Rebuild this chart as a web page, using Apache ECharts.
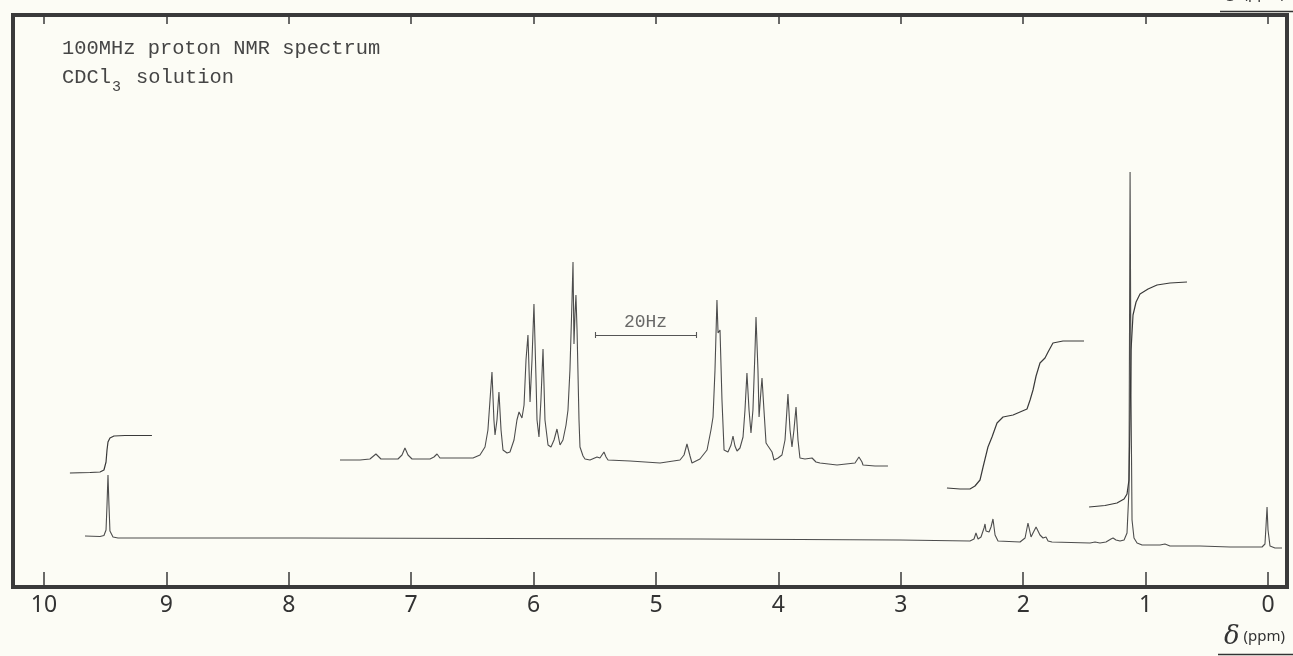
<!DOCTYPE html>
<html>
<head>
<meta charset="utf-8">
<script src="https://cdn.jsdelivr.net/npm/echarts@6.0.0/dist/echarts.min.js"></script>
<style>
html,body{margin:0;padding:0;background:#fcfcf5;}
#chart{width:1293px;height:656px;}
</style>
</head>
<body>
<div id="chart"></div>
<script>
// ---- data (chemical shift in ppm, intensity in chart units) ----
const tickValues = [0, 1, 2, 3, 4, 5, 6, 7, 8, 9, 10];
const titleLine1 = '100MHz proton NMR spectrum';
const solventMain = 'CDCl';
const solventSub = '3';
const solventRest = 'solution';
const axisName = 'δ';
const axisUnit = '(ppm)';
const scaleLabel = '20Hz';

// full-width spectrum trace
const spectrum = [
  [9.665,51],[9.542,50.5],[9.510,51.5],[9.493,57],[9.485,82],[9.477,112],[9.469,82],[9.461,56],[9.436,50],[9.395,49],
  [7.908,49],[6.275,48.5],[4.641,48],[3.007,47],[2.435,46],[2.402,48],[2.386,54],[2.369,48],[2.345,50],[2.320,59],
  [2.312,63],[2.304,56],[2.296,55],[2.279,55],[2.263,60],[2.247,68],[2.230,52],[2.206,46],[2.026,45],[1.985,49],
  [1.961,64],[1.936,50],[1.920,54],[1.895,60],[1.879,59],[1.863,52],[1.838,49],[1.814,50],[1.797,46],[1.765,45],
  [1.454,44],[1.413,45],[1.397,46],[1.373,44],[1.324,45],[1.283,48],[1.266,49],[1.242,47],[1.209,46],[1.176,47],
  [1.152,54],[1.136,97],[1.127,415],[1.119,187],[1.111,67],[1.095,49],[1.070,44],[1.029,42],[0.882,42],[0.842,43],
  [0.801,41],[0.556,41],[0.310,40],[0.049,40],[0.025,43],[0.016,62],[0.008,80],[0.000,57],[-0.016,41],[-0.057,39],[-0.114,39]
];

// integral traces
const integralA = [
  [9.788,114],[9.624,114.5],[9.542,115],[9.510,117],[9.493,125],[9.485,137],[9.477,145],[9.461,149],[9.428,151],[9.338,151.5],[9.118,151.5]
];
const integralB = [
  [2.623,99],[2.516,98],[2.435,98],[2.394,101],[2.353,107],[2.328,120],[2.288,140],[2.255,150],[2.214,164],[2.165,170],
  [2.083,172],[1.969,178],[1.944,187],[1.920,197],[1.895,211],[1.863,224],[1.822,229],[1.797,235],[1.757,244],[1.675,246],[1.503,246]
];
const integralC = [
  [1.462,80],[1.332,81.5],[1.234,84],[1.176,88],[1.152,93],[1.136,107],[1.127,167],[1.119,237],[1.103,272],[1.078,285],
  [1.046,293],[0.980,298],[0.907,302],[0.801,304],[0.662,305]
];

// expanded (offset) trace
const expanded = [
  [7.582,127],[7.418,127],[7.337,128],[7.288,133],[7.247,128],[7.108,128],[7.075,132],[7.051,139],[7.026,132],[6.993,128],
  [6.846,128],[6.814,130],[6.789,133],[6.765,129],[6.626,129],[6.495,129],[6.438,132],[6.397,140],[6.373,157],[6.356,187],
  [6.340,215],[6.324,167],[6.315,152],[6.299,167],[6.283,195],[6.266,157],[6.250,137],[6.217,134],[6.193,135],[6.160,147],
  [6.136,167],[6.119,175],[6.095,169],[6.078,182],[6.062,227],[6.046,252],[6.029,185],[6.013,227],[5.997,283],[5.980,207],
  [5.972,167],[5.956,150],[5.940,187],[5.923,238],[5.907,167],[5.882,142],[5.858,140],[5.833,147],[5.809,158],[5.792,147],
  [5.784,142],[5.760,147],[5.735,162],[5.719,177],[5.703,217],[5.686,287],[5.678,325],[5.670,243],[5.662,272],[5.654,292],
  [5.645,257],[5.629,167],[5.621,140],[5.596,131],[5.580,128],[5.539,127],[5.482,130],[5.458,129],[5.425,135],[5.408,130],
  [5.392,127],[5.212,126],[4.967,124],[4.804,127],[4.771,132],[4.747,143],[4.722,131],[4.706,124],[4.641,128],[4.583,137],
  [4.551,157],[4.534,170],[4.518,217],[4.502,287],[4.493,254],[4.477,257],[4.461,187],[4.444,137],[4.412,135],[4.387,142],
  [4.371,151],[4.355,141],[4.338,136],[4.314,139],[4.289,150],[4.273,177],[4.257,214],[4.240,177],[4.224,154],[4.208,177],
  [4.191,237],[4.183,270],[4.167,217],[4.158,170],[4.142,197],[4.134,209],[4.118,177],[4.101,144],[4.085,141],[4.069,143],
  [4.052,135],[4.036,127],[4.003,129],[3.971,132],[3.946,147],[3.922,193],[3.905,157],[3.889,140],[3.873,157],[3.856,180],
  [3.840,147],[3.824,129],[3.783,128],[3.725,129],[3.693,125],[3.660,124],[3.521,122],[3.374,124],[3.342,130],[3.317,125],
  [3.309,122],[3.211,121],[3.105,121]
];

// 20 Hz scale bar (ppm ends, level, cap half-height)
const scaleBarEnds = [5.498, 4.673];
const scaleBarLevel = 252;
const scaleBarCap = 3;

// axis extent (ppm)
const axisMin = -0.155;
const axisMax = 10.253;

// ---- chart ----
const chart = echarts.init(document.getElementById('chart'), null, {renderer: 'canvas'});
const ink = '#3a3a3a';
const traceColor = '#4d4d4d';
const textInk = '#454545';
const monoFont = '"Liberation Mono", monospace';

const barLines = [
  {coords: [[scaleBarEnds[0], scaleBarLevel], [scaleBarEnds[1], scaleBarLevel]]},
  {coords: [[scaleBarEnds[0], scaleBarLevel - scaleBarCap], [scaleBarEnds[0], scaleBarLevel + scaleBarCap]]},
  {coords: [[scaleBarEnds[1], scaleBarLevel - scaleBarCap], [scaleBarEnds[1], scaleBarLevel + scaleBarCap]]}
];
const barMid = (scaleBarEnds[0] + scaleBarEnds[1]) / 2;

const lineSeries = (name, data, color, width) => ({
  name, type: 'line', data, xAxisIndex: 0, yAxisIndex: 0,
  showSymbol: false, symbol: 'none', smooth: false,
  lineStyle: {color, width}, silent: true, animation: false, z: 3
});

const unitLabel = (top) => ({
  type: 'text', left: 1224, top: top, silent: true,
  style: {
    text: '{d|' + axisName + '}{p| ' + axisUnit + '}',
    rich: {
      d: {fontFamily: 'DejaVu Serif', fontStyle: 'italic', fontSize: 26, lineHeight: 28, color: '#333', fill: '#333'},
      p: {fontFamily: 'Noto Sans', fontSize: 15, lineHeight: 28, color: '#333', fill: '#333'}
    }
  }
});

chart.setOption({
  backgroundColor: '#fcfcf5',
  animation: false,
  grid: {left: 13, right: 6, top: 15, bottom: 69, show: true, borderColor: ink, borderWidth: 4, backgroundColor: 'transparent'},
  xAxis: [
    {
      type: 'value', position: 'bottom', min: axisMin, max: axisMax, inverse: true,
      axisLine: {show: false},
      axisTick: {show: true, inside: true, length: 15, customValues: tickValues, lineStyle: {color: ink, width: 1.5}},
      axisLabel: {show: true, customValues: tickValues, margin: 7, fontSize: 23, color: '#333', fontFamily: 'Noto Sans'},
      splitLine: {show: false}
    },
    {
      type: 'value', position: 'top', min: axisMin, max: axisMax, inverse: true,
      axisLine: {show: false},
      axisTick: {show: true, inside: true, length: 9, customValues: tickValues, lineStyle: {color: ink, width: 1.5}},
      axisLabel: {show: false},
      splitLine: {show: false}
    }
  ],
  yAxis: {
    type: 'value', min: 0, max: 572,
    axisLine: {show: false}, axisTick: {show: false}, axisLabel: {show: false}, splitLine: {show: false}
  },
  series: [
    lineSeries('spectrum', spectrum, traceColor, 1.1),
    lineSeries('expanded', expanded, traceColor, 1.1),
    lineSeries('integralA', integralA, '#3a3a3a', 1.2),
    lineSeries('integralB', integralB, '#3a3a3a', 1.2),
    lineSeries('integralC', integralC, '#3a3a3a', 1.2),
    {
      type: 'lines', coordinateSystem: 'cartesian2d', xAxisIndex: 0, yAxisIndex: 0,
      data: barLines, lineStyle: {color: '#555', width: 1.1, opacity: 1}, silent: true, animation: false
    },
    {
      type: 'scatter', xAxisIndex: 0, yAxisIndex: 0, data: [[barMid, scaleBarLevel]], symbolSize: 0, silent: true,
      label: {show: true, position: 'top', distance: 4, formatter: scaleLabel, fontFamily: 'Liberation Mono', fontSize: 18, color: '#444'}
    }
  ],
  graphic: [
    {type: 'text', left: 62, top: 39, silent: true, style: {text: titleLine1, font: '20.4px ' + monoFont, fill: textInk}},
    {type: 'text', left: 62, top: 68, silent: true, style: {text: solventMain, font: '20.4px ' + monoFont, fill: textInk}},
    {type: 'text', left: 112, top: 80, silent: true, style: {text: solventSub, font: '15px ' + monoFont, fill: textInk}},
    {type: 'text', left: 136, top: 68, silent: true, style: {text: solventRest, font: '20.4px ' + monoFont, fill: textInk}},
    unitLabel(624),
    {type: 'line', silent: true, shape: {x1: 1218, y1: 654.5, x2: 1293, y2: 654.5}, style: {stroke: '#333', lineWidth: 1.6}},
    unitLabel(-19),
    {type: 'line', silent: true, shape: {x1: 1220, y1: 11.5, x2: 1293, y2: 11.5}, style: {stroke: '#333', lineWidth: 1.6}}
  ]
});
</script>
</body>
</html>
